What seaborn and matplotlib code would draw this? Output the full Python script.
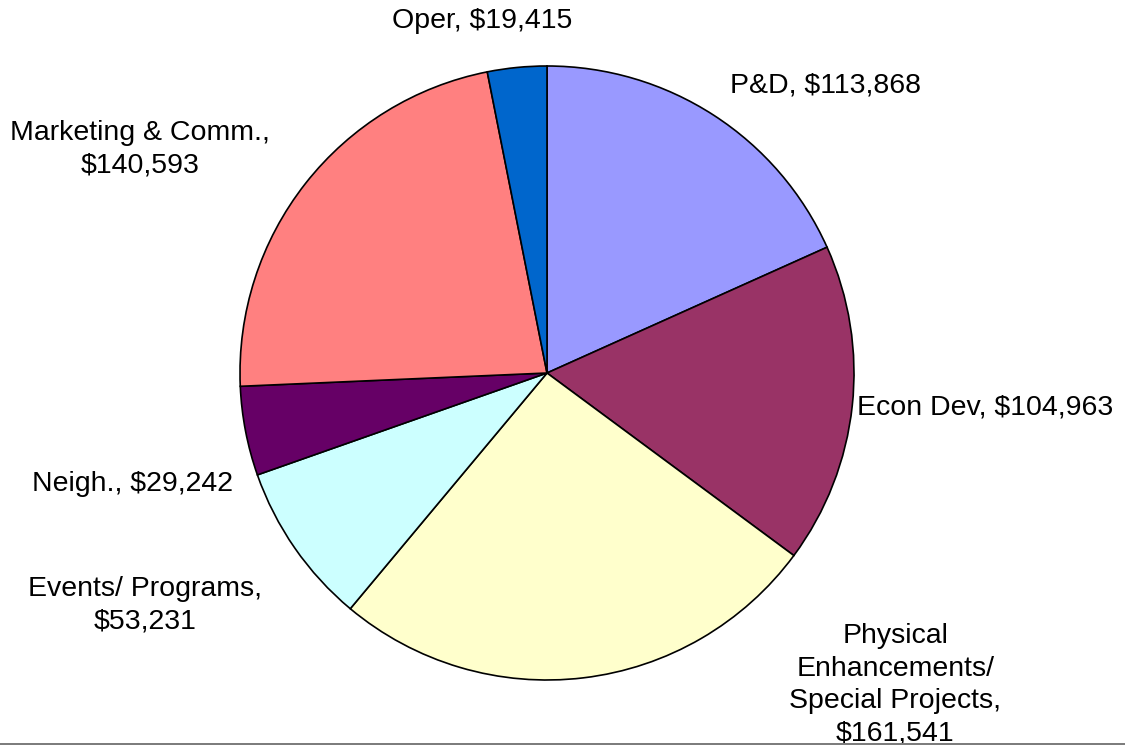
import matplotlib
matplotlib.use('Agg')
import matplotlib.pyplot as plt
import seaborn as sb
from matplotlib.lines import Line2D

# data
categories = ['P&D', 'Econ Dev', 'Physical\nEnhancements/\nSpecial Projects,', 'Events/ Programs,',
              'Neigh.', 'Marketing & Comm.,', 'Oper']
amounts = [113868, 104963, 161541, 53231, 29242, 140593, 19415]
inline = [True, True, False, False, True, False, True]  # label and value on one line?
colors = ['#9999FF', '#993366', '#FFFFCC', '#CCFFFF', '#660066', '#FF8080', '#0066CC']

# label centres in pie-radius units (layout only)
label_pos = [(0.906, 0.938), (1.427, -0.114), (1.134, -1.016), (-1.309, -0.756),
             (-1.349, -0.362), (-1.326, 0.730), (-0.212, 1.147)]

labels = []
for c, a, one in zip(categories, amounts, inline):
    sep = ', ' if one else '\n'
    labels.append(c + sep + '${:,}'.format(a))

sb.set_style('white')
plt.rcParams['font.family'] = ['Liberation Sans', 'DejaVu Sans']

fig = plt.figure(figsize=(11.25, 7.49), dpi=100)
H = 749
ax = fig.add_axes([0, (H - 743) / H, 1, 743 / H])

R = 307.0
cx, cy = 547.0, 373.0
wedges, texts = ax.pie(amounts, labels=labels, colors=colors, startangle=90, counterclock=False,
                       wedgeprops={'edgecolor': 'black', 'linewidth': 1.2},
                       textprops={'fontsize': 20.5, 'color': 'black'})

for t, (x, y) in zip(texts, label_pos):
    t.set_position((x, y))
    t.set_ha('center')
    t.set_va('center')
    t.set_multialignment('center')
    t.set_linespacing(1.33)
    t.set_clip_on(True)

ax.set_aspect('auto')
ax.set_xlim(-cx / R, (1125 - cx) / R)
ax.set_ylim((cy - 743) / R, cy / R)
ax.set_xticks([])
ax.set_yticks([])
ax.set_frame_on(False)

fig.add_artist(Line2D([0, 1], [(H - 743.5) / H] * 2, transform=fig.transFigure,
                      color='#707070', linewidth=1.3))

fig.savefig('out.png', dpi=100, facecolor='white')
